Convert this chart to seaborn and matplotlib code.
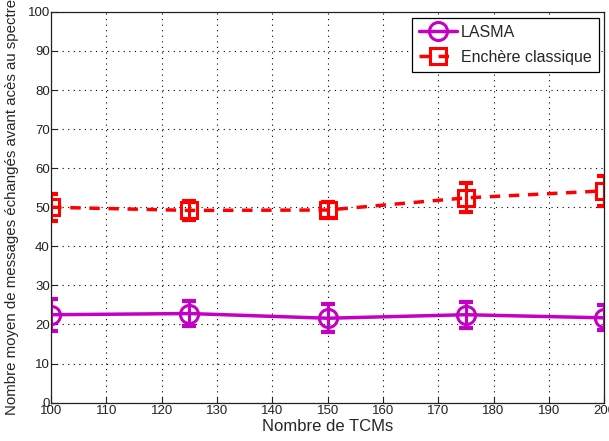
import numpy as np
import pandas as pd
import matplotlib
matplotlib.use("Agg")
import matplotlib.pyplot as plt
import seaborn as sns

# Données
tcms = [100, 125, 150, 175, 200]
lasma = [22.5, 22.8, 21.6, 22.5, 21.7]
lasma_err = [4.1, 3.2, 3.6, 3.3, 3.2]
enchere = [50.0, 49.2, 49.3, 52.4, 54.2]
enchere_err = [3.5, 2.5, 2.0, 3.7, 3.9]

sns.set_style("ticks")
plt.rcParams['font.family'] = ['Liberation Sans', 'DejaVu Sans']

fig = plt.figure(figsize=(6.09, 4.41), dpi=100)
ax = fig.add_axes([0.084, 0.087, 0.908, 0.886])

magenta = "#C400C4"
red = "#FF0000"

df = pd.DataFrame({"x": tcms * 2,
                   "y": lasma + enchere,
                   "serie": ["LASMA"] * 5 + ["Enchère classique"] * 5})

sns.lineplot(data=df[df.serie == "LASMA"], x="x", y="y", ax=ax, color=magenta,
             lw=2.5, marker="o", markersize=13, markerfacecolor="none",
             markeredgecolor=magenta, markeredgewidth=2.2, label="LASMA")
sns.lineplot(data=df[df.serie == "Enchère classique"], x="x", y="y", ax=ax, color=red,
             lw=2.5, ls=(0, (3, 2.5)), marker="s", markersize=12, markerfacecolor="none",
             markeredgecolor=red, markeredgewidth=2.2, label="Enchère classique")

ax.errorbar(tcms, lasma, yerr=lasma_err, fmt="none", ecolor=magenta,
            elinewidth=2.2, capsize=5, capthick=3)
ax.errorbar(tcms, enchere, yerr=enchere_err, fmt="none", ecolor=red,
            elinewidth=2.2, capsize=5, capthick=3)

ax.set_xlim(100, 200)
ax.set_ylim(0, 100)
ax.set_xticks(np.arange(100, 201, 10))
ax.set_yticks(np.arange(0, 101, 10))
ax.grid(True, color="black", ls=(0, (1, 4)), lw=0.8)
ax.tick_params(labelsize=9.5, direction="in", length=4, colors="#222222", pad=1)
ax.tick_params(axis="x", pad=2)
for s in ax.spines.values():
    s.set_linewidth(0.9)
    s.set_color("#222222")

ax.set_xlabel("Nombre de TCMs", fontsize=12, labelpad=1)
ax.set_ylabel("Nombre moyen de messages échangés avant acès au spectre", fontsize=10.8, labelpad=6)

leg = ax.legend(loc="upper right", bbox_to_anchor=(0.99, 0.985), borderaxespad=0,
                fontsize=11.5, frameon=True, fancybox=False, edgecolor="black",
                framealpha=1, handlelength=2.4, borderpad=0.45, labelspacing=0.6,
                handletextpad=0.2)
leg.get_frame().set_linewidth(0.9)

fig.savefig("out.png", dpi=100)
